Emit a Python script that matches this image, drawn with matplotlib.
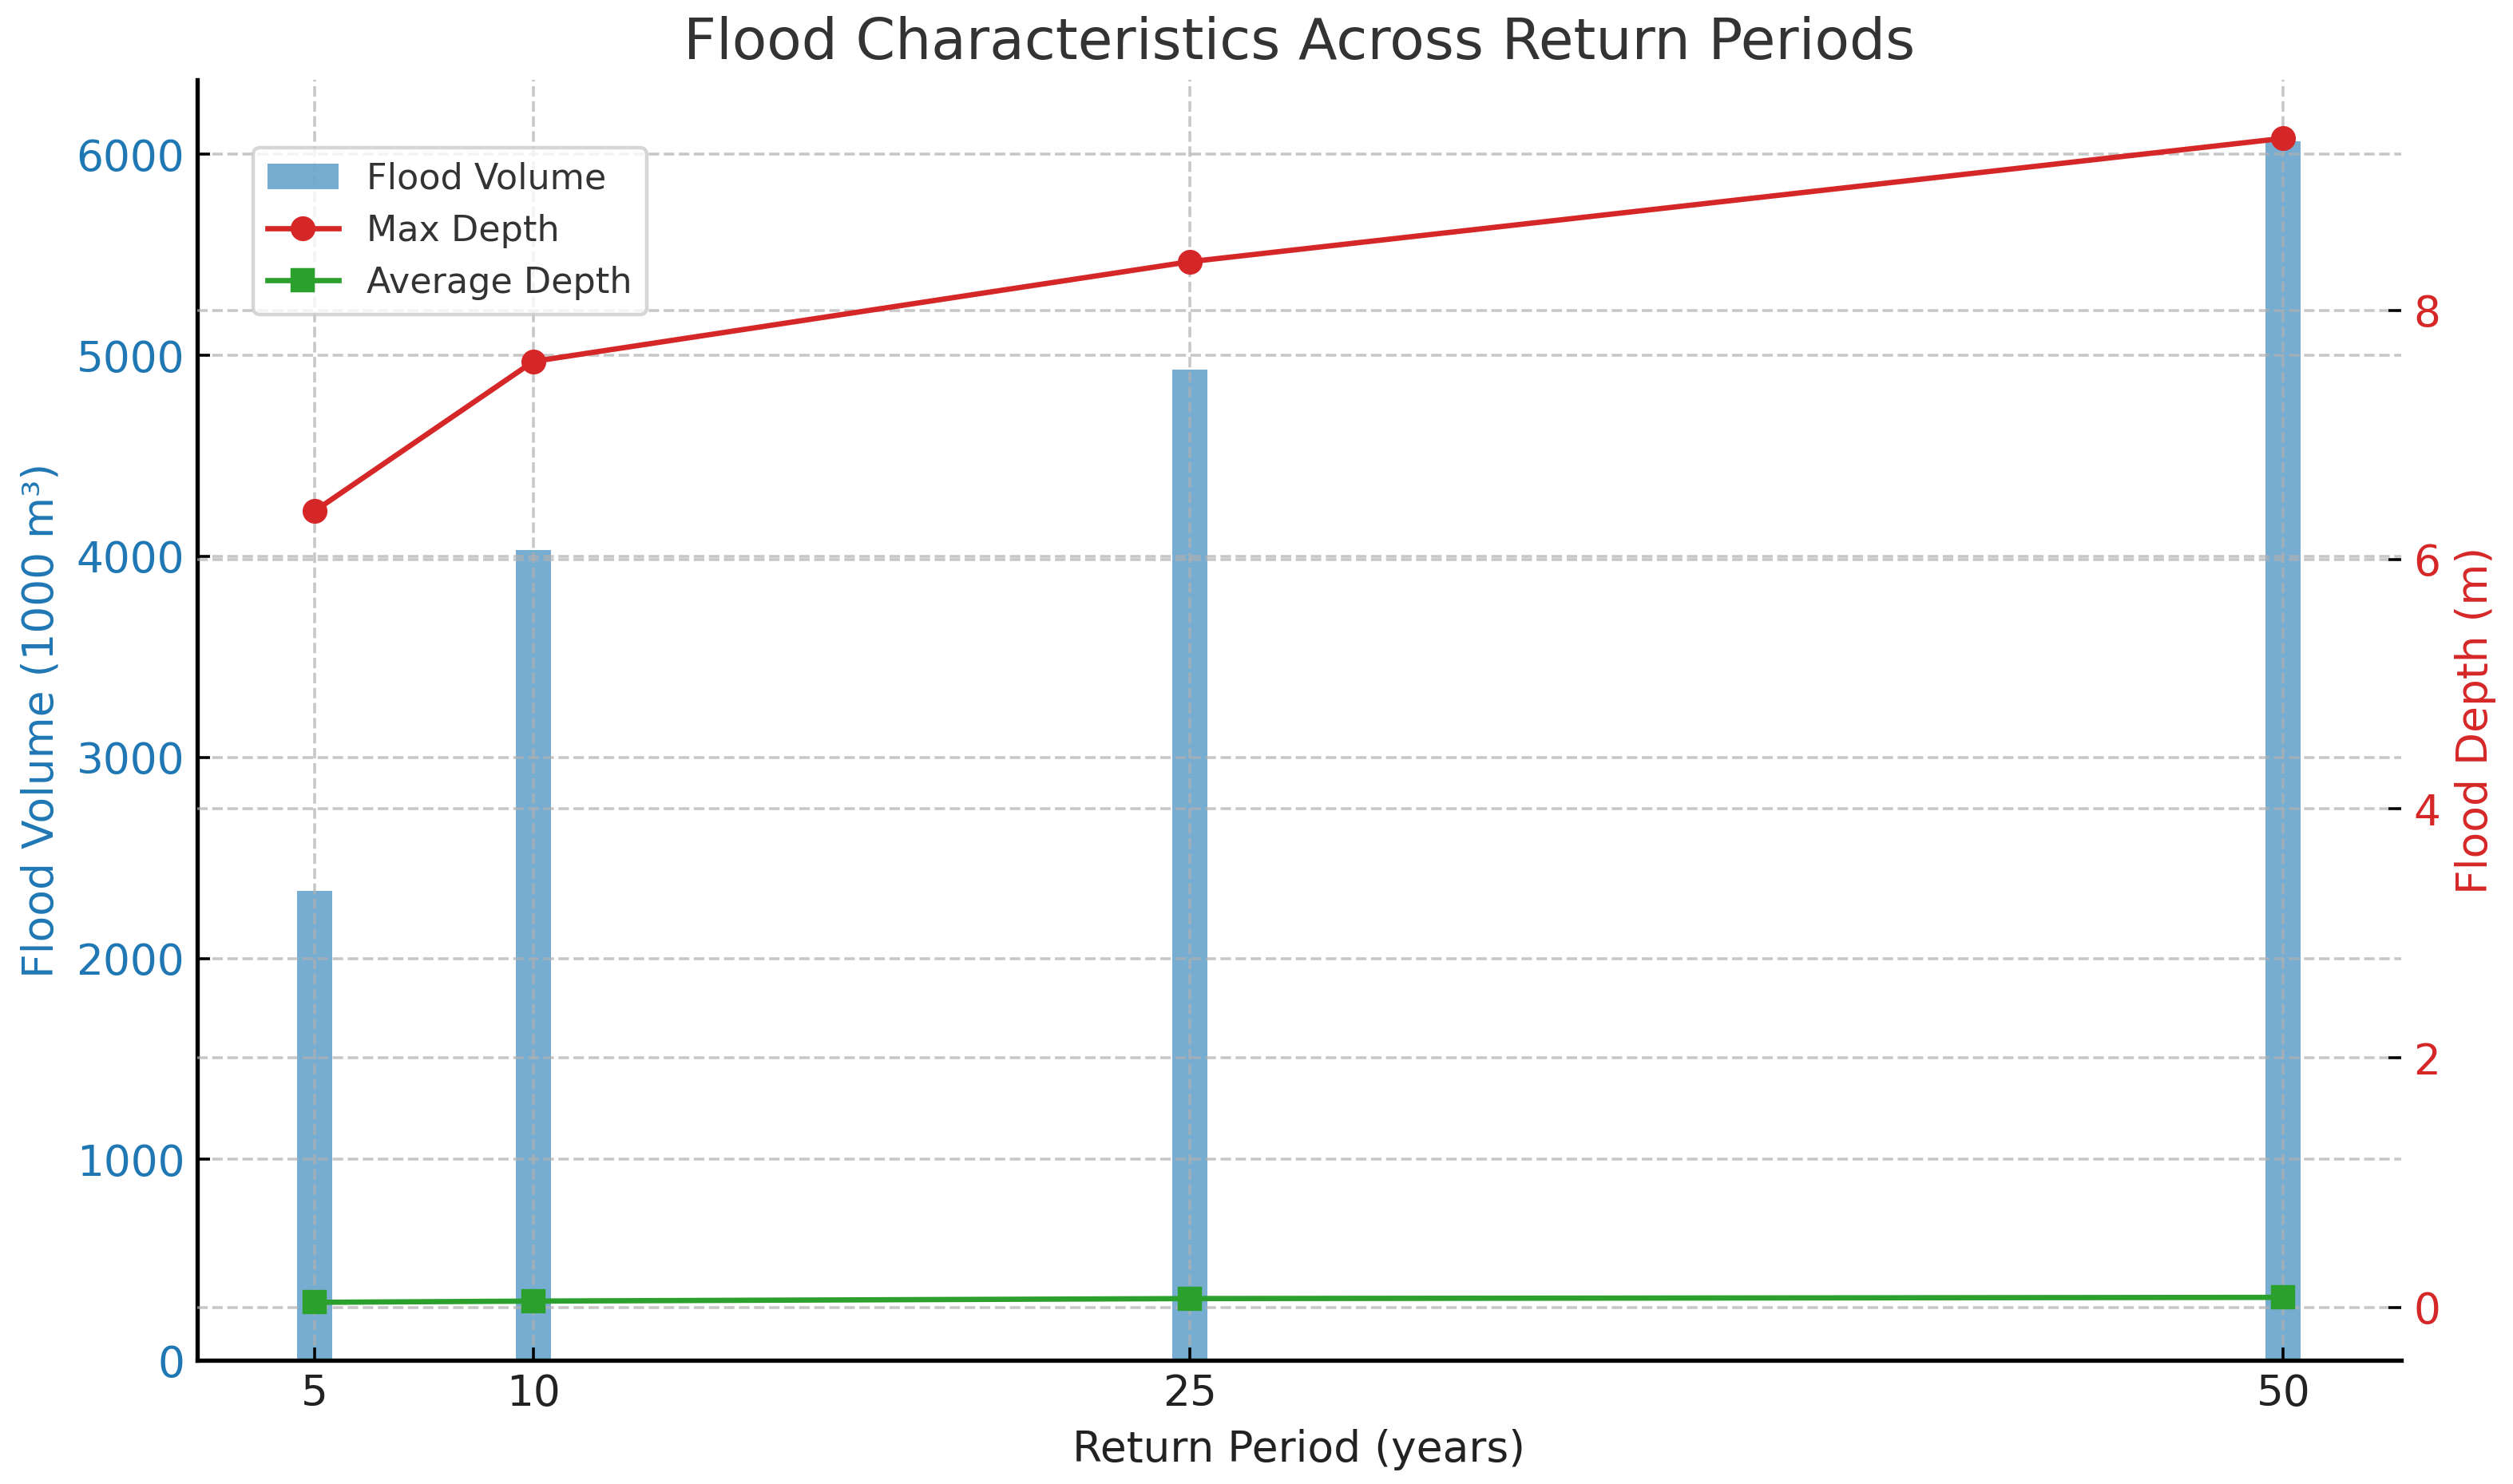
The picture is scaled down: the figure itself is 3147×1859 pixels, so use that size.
import numpy as np
import matplotlib
matplotlib.use("Agg")
import matplotlib.pyplot as plt

# values
return_periods = [5, 10, 25, 50]
flood_volume = [2335, 4030, 4930, 6065]   # 1000 m3
max_depth = [6.39, 7.59, 8.39, 9.38]      # m
avg_depth = [0.04, 0.05, 0.07, 0.08]      # m

fig, ax = plt.subplots(figsize=(3147 / 320, 1859 / 320), dpi=320)
fig.subplots_adjust(left=0.0784, right=0.9554, top=0.946, bottom=0.0832)

bars = ax.bar(return_periods, flood_volume, width=0.8, color='tab:blue', alpha=0.6,
              label='Flood Volume')
ax.set_xticks(return_periods)
ax.set_xlabel('Return Period (years)', fontsize=12, color='#222222')
ax.set_ylabel('Flood Volume (1000 m³)', fontsize=12, color='tab:blue')
ax.tick_params(axis='y', labelcolor='tab:blue', labelsize=12, direction='in')
ax.tick_params(axis='x', labelsize=12, direction='in', labelcolor='#222222')
ax.grid(True, linestyle='--', alpha=0.7)
for side in ['top', 'right']:
    ax.spines[side].set_visible(False)
for side in ['left', 'bottom']:
    ax.spines[side].set_linewidth(1.2)

ax2 = ax.twinx()
l1, = ax2.plot(return_periods, max_depth, color='tab:red', marker='o', label='Max Depth')
l2, = ax2.plot(return_periods, avg_depth, color='tab:green', marker='s', label='Average Depth')
ax2.set_ylabel('Flood Depth (m)', fontsize=12, color='tab:red')
ax2.tick_params(axis='y', labelcolor='tab:red', labelsize=12, direction='in')
ax2.grid(True, linestyle='--', alpha=0.7)
for side in ['top', 'right', 'left', 'bottom']:
    ax2.spines[side].set_visible(False)

ax.set_title('Flood Characteristics Across Return Periods', fontsize=16, color='#333333')

leg = ax2.legend([bars, l1, l2], ['Flood Volume', 'Max Depth', 'Average Depth'],
                 loc='upper left', bbox_to_anchor=(0.1008, 0.9006),
                 bbox_transform=fig.transFigure, borderaxespad=0, fontsize=10)
for t in leg.get_texts():
    t.set_color('#333333')

fig.savefig('out.png', dpi=320)
